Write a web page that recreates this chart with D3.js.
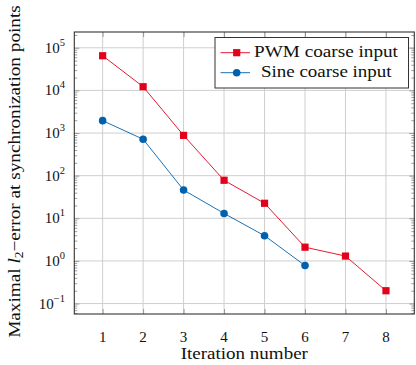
<!DOCTYPE html>
<html><head><meta charset="utf-8">
<script src="https://cdn.jsdelivr.net/npm/d3@7"></script>
<style>body{margin:0;background:#fff}svg{display:block}text{font-family:"Liberation Serif","Times New Roman",serif;fill:#111}</style>
</head><body><svg id="c" width="416" height="365"></svg>
<script>
const iterations = [1,2,3,4,5,6,7,8];
const pwmValues = [65000, 12200, 880, 78, 22.5, 2.1, 1.3, 0.2];
const sineIterations = [1,2,3,4,5,6];
const sineValues = [1950, 716, 46, 13, 3.9, 0.78];
const xTicks = [1,2,3,4,5,6,7,8];
const yExponents = [-1,0,1,2,3,4,5];
const seriesNames = ["PWM coarse input","Sine coarse input"];

const svg = d3.select("#c");
const L=74.3, R=414.3, T=32, B=314;
const x = d3.scaleLinear().domain([0.3,8.7]).range([L,R]);
const y = d3.scaleLog().domain([Math.pow(10,-1.245),Math.pow(10,5.37)]).range([B,T]);
const red="#E3001B", blue="#0061AE", grid="#cfcfcf", axc="#333";

// stretch text horizontally (in its own frame) to a target width
function fit(sel, target, tx, ty, rot){
  const w = sel.node().getComputedTextLength();
  const s = target / w;
  sel.attr("transform", `translate(${tx},${ty})` + (rot?` rotate(${rot})`:"") + ` scale(${s},1)`);
}

// grid
svg.append("g").selectAll("line").data(xTicks).join("line")
  .attr("x1",d=>x(d)).attr("x2",d=>x(d)).attr("y1",T).attr("y2",B)
  .attr("stroke",grid).attr("stroke-width",1);
svg.append("g").selectAll("line").data(yExponents).join("line")
  .attr("y1",d=>y(Math.pow(10,d))).attr("y2",d=>y(Math.pow(10,d))).attr("x1",L).attr("x2",R)
  .attr("stroke",grid).attr("stroke-width",1);

// minor ticks (left and right, inward)
const minors=[];
for(let e=-2;e<=5;e++) for(let m=2;m<=9;m++){const v=m*Math.pow(10,e); if(v>=y.domain()[0]&&v<=y.domain()[1]) minors.push(v);}
const gL=svg.append("g").attr("transform",`translate(${L},0)`).call(d3.axisLeft(y).tickValues(minors).tickSize(-3).tickFormat(""));
const gR=svg.append("g").attr("transform",`translate(${R},0)`).call(d3.axisRight(y).tickValues(minors).tickSize(-3).tickFormat(""));
const majors=yExponents.map(e=>Math.pow(10,e));
const gL2=svg.append("g").attr("transform",`translate(${L},0)`).call(d3.axisLeft(y).tickValues(majors).tickSize(-5).tickFormat(""));
const gR2=svg.append("g").attr("transform",`translate(${R},0)`).call(d3.axisRight(y).tickValues(majors).tickSize(-5).tickFormat(""));
const gB=svg.append("g").attr("transform",`translate(0,${B})`).call(d3.axisBottom(x).tickValues(xTicks).tickSize(-5).tickFormat(""));
const gT=svg.append("g").attr("transform",`translate(0,${T})`).call(d3.axisTop(x).tickValues(xTicks).tickSize(-5).tickFormat(""));
[gL,gR,gL2,gR2,gB,gT].forEach(g=>{g.select(".domain").remove();g.selectAll("line").attr("stroke","#777").attr("stroke-width",0.7);});

// frame
svg.append("rect").attr("x",L).attr("y",T).attr("width",R-L).attr("height",B-T)
  .attr("fill","none").attr("stroke",axc).attr("stroke-width",1.1);

// x tick labels
svg.append("g").selectAll("text").data(xTicks).join("text")
  .attr("x",d=>x(d)).attr("y",342).attr("text-anchor","middle").attr("font-size",15).text(d=>d);
// y tick labels
const yl=svg.append("g").selectAll("text").data(yExponents).join("text")
  .attr("x",65).attr("y",d=>y(Math.pow(10,d))+5).attr("text-anchor","end").attr("font-size",15);
yl.each(function(d){
  const t=d3.select(this);
  t.append("tspan").text("10");
  t.append("tspan").attr("dy",-7).attr("font-size",10.5).text(d<0?"\u22121":d);
});

// axis titles
const xt=svg.append("text").attr("text-anchor","middle").attr("font-size",16.5).text("Iteration number");
fit(xt,127.3,(x(1)+x(8))/2,359);
const yt=svg.append("text").attr("text-anchor","middle").attr("font-size",16.5);
yt.append("tspan").text("Maximal ");
yt.append("tspan").attr("font-style","italic").text("l");
yt.append("tspan").attr("font-size",11.5).attr("dy",3).text("2");
yt.append("tspan").attr("dy",-3).text("\u2212error at synchronization points");
fit(yt,333,19.5,171.5,-90);

// lines
const line=d3.line().x(d=>x(d[0])).y(d=>y(d[1]));
const pwm=iterations.map((d,i)=>[d,pwmValues[i]]);
const sine=sineIterations.map((d,i)=>[d,sineValues[i]]);
svg.append("path").attr("d",line(pwm)).attr("fill","none").attr("stroke",red).attr("stroke-width",0.9);
svg.append("path").attr("d",line(sine)).attr("fill","none").attr("stroke",blue).attr("stroke-width",0.9);
svg.append("g").selectAll("rect").data(pwm).join("rect")
  .attr("x",d=>x(d[0])-3.6).attr("y",d=>y(d[1])-3.6).attr("width",7.2).attr("height",7.2).attr("fill",red);
svg.append("g").selectAll("circle").data(sine).join("circle")
  .attr("cx",d=>x(d[0])).attr("cy",d=>y(d[1])).attr("r",3.8).attr("fill",blue);

// legend
const lg=svg.append("g");
lg.append("rect").attr("x",215).attr("y",37.5).attr("width",193.5).attr("height",50.5).attr("fill","#fff").attr("stroke",axc).attr("stroke-width",1);
const rows=[{n:seriesNames[0],c:red,s:"sq",yy:52.7,x0:254,w:144},{n:seriesNames[1],c:blue,s:"ci",yy:72.7,x0:261,w:130.7}];
rows.forEach(r=>{
  lg.append("line").attr("x1",220.5).attr("x2",250).attr("y1",r.yy).attr("y2",r.yy).attr("stroke",r.c).attr("stroke-width",0.9);
  if(r.s==="sq") lg.append("rect").attr("x",236.7-3.6).attr("y",r.yy-3.6).attr("width",7.2).attr("height",7.2).attr("fill",r.c);
  else lg.append("circle").attr("cx",236.7).attr("cy",r.yy).attr("r",3.8).attr("fill",r.c);
  const t=lg.append("text").attr("font-size",17).text(r.n);
  fit(t,r.w,r.x0,r.yy+4.2);
});
</script></body></html>
